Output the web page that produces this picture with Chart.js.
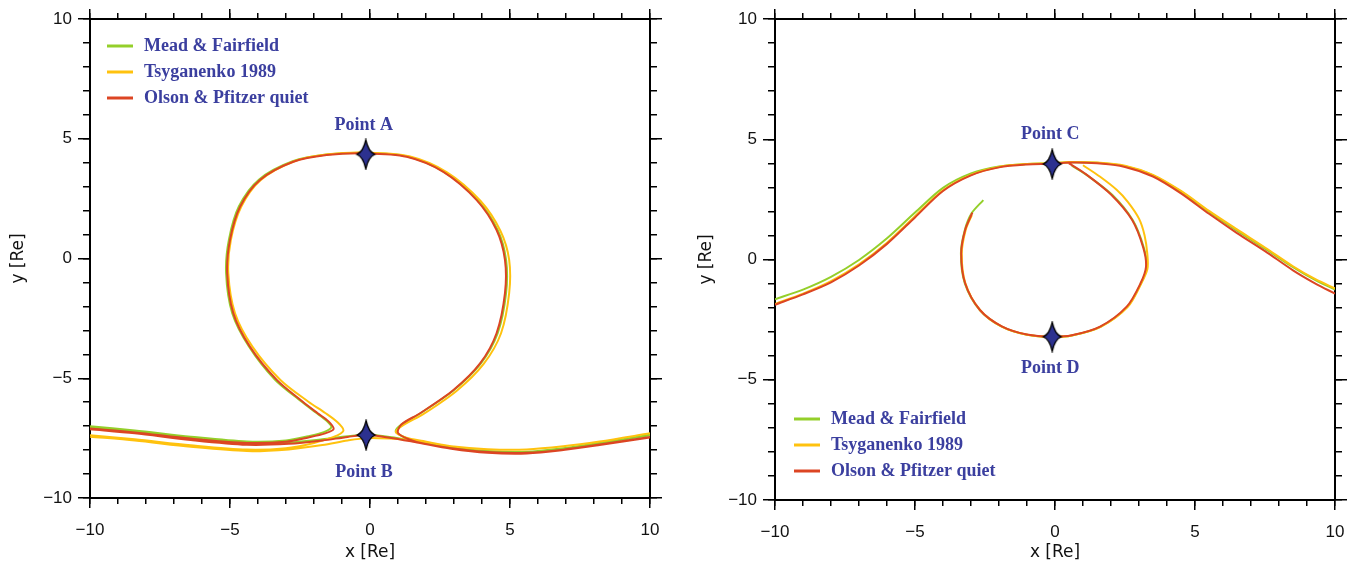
<!DOCTYPE html>
<html>
<head>
<meta charset="utf-8">
<title>Drift paths</title>
<script src="https://cdn.jsdelivr.net/npm/chart.js@4.4.1/dist/chart.umd.min.js"></script>
<style>
    html, body { margin: 0; padding: 0; background: #fff; }
    #wrap { position: relative; width: 1357px; height: 563px; overflow: hidden; }
    .panel { position: absolute; top: 0; }
    #panel-left { left: 0; }
    #panel-right { left: 680px; }
</style>
</head>
<body>
<div id="wrap">
    <div class="panel" id="panel-left"><canvas id="chart-left" width="680" height="563"></canvas></div>
    <div class="panel" id="panel-right"><canvas id="chart-right" width="677" height="563"></canvas></div>
</div>
<script>
// Field models, in legend order
const MODELS = ["Mead & Fairfield", "Tsyganenko 1989", "Olson & Pfitzer quiet"];

const AXIS_MIN = -10;
const AXIS_MAX = 10;
const MAJOR_TICKS = [-10, -5, 0, 5, 10];

// Left panel: null breaks a trace into separate pieces
const LEFT_MEAD_X = [-10, -8.4, -6.4, -4.4, -2.9, -1.7, -0.8, -0.12, 0.7, 1.6, 2.9, 4.2, 5.6, 6.9, 8.2, 10, null,
    -10, -8.4, -6.4, -4.4, -3.0, -2.2, -1.65, -1.38, -1.55, -1.95, -2.45, -3.4, -4.33, -4.92, -5.14, -5.04, -4.68, -3.96, -2.76, -1.55, -0.15,
    1.31, 2.64, 3.85, 4.56, 4.86, 4.86, 4.56, 3.96, 3.0, 1.8, 1.12, 0.92, 1.3, 1.8, 2.9, 4.2, 5.6, 6.9, 8.2, 10];
const LEFT_MEAD_Y = [-7.05, -7.24, -7.52, -7.72, -7.68, -7.55, -7.42, -7.36, -7.45, -7.62, -7.9, -8.07, -8.1, -7.95, -7.72, -7.38, null,
    -7.0, -7.18, -7.44, -7.64, -7.6, -7.42, -7.25, -7.05, -6.78, -6.42, -5.97, -5.05, -3.66, -2.28, -0.6, 0.78, 2.18, 3.3, 4.06, 4.34, 4.41,
    4.27, 3.62, 2.44, 1.19, -0.06, -1.45, -3.12, -4.38, -5.49, -6.46, -6.93, -7.22, -7.5, -7.65, -7.88, -8.04, -8.07, -7.92, -7.7, -7.36];

const LEFT_TSYG_X = [-10, -8.4, -6.4, -4.4, -2.9, -1.7, -0.8, -0.12, 0.7, 1.6, 2.9, 4.2, 5.6, 6.9, 8.2, 10, null,
    -10, -8.4, -6.4, -4.4, -3.0, -2.0, -1.3, -0.95, -1.15, -1.6, -2.2, -3.2, -4.2, -4.82, -5.06, -4.97, -4.6, -3.9, -2.7, -1.5, -0.1,
    1.4, 2.75, 3.95, 4.66, 4.97, 4.97, 4.68, 4.06, 3.1, 1.9, 1.2, 0.92, 1.3, 1.9, 2.9, 4.2, 5.6, 6.9, 8.2, 10];
const LEFT_TSYG_Y = [-7.44, -7.6, -7.86, -8.04, -7.97, -7.79, -7.6, -7.5, -7.52, -7.6, -7.84, -7.96, -7.97, -7.84, -7.64, -7.3, null,
    -7.38, -7.55, -7.8, -7.98, -7.92, -7.7, -7.45, -7.19, -6.85, -6.45, -5.98, -5.07, -3.68, -2.29, -0.62, 0.77, 2.16, 3.28, 4.06, 4.35, 4.42,
    4.27, 3.6, 2.4, 1.15, -0.06, -1.45, -3.12, -4.4, -5.52, -6.5, -6.95, -7.25, -7.48, -7.62, -7.84, -7.96, -7.97, -7.84, -7.64, -7.3];

const LEFT_OLSON_X = [-10, -8.4, -6.4, -4.4, -2.9, -1.7, -0.8, -0.12, 0.7, 1.6, 2.9, 4.2, 5.6, 6.9, 8.2, 10, null,
    -10, -8.4, -6.4, -4.4, -3.0, -2.2, -1.6, -1.3, -1.48, -1.88, -2.4, -3.33, -4.29, -4.88, -5.1, -5.0, -4.64, -3.93, -2.74, -1.55, -0.15,
    1.31, 2.62, 3.81, 4.52, 4.82, 4.82, 4.52, 3.93, 2.98, 1.79, 1.12, 1.0, 1.4, 1.9, 2.9, 4.2, 5.6, 6.9, 8.2, 10];
const LEFT_OLSON_Y = [-7.13, -7.3, -7.58, -7.78, -7.74, -7.6, -7.45, -7.37, -7.48, -7.66, -7.94, -8.11, -8.14, -8.0, -7.79, -7.47, null,
    -7.1, -7.26, -7.52, -7.7, -7.65, -7.47, -7.3, -7.12, -6.8, -6.45, -5.98, -5.07, -3.68, -2.29, -0.62, 0.77, 2.16, 3.28, 4.04, 4.32, 4.39,
    4.25, 3.62, 2.44, 1.19, -0.06, -1.45, -3.12, -4.38, -5.49, -6.46, -6.93, -7.28, -7.55, -7.72, -7.92, -8.08, -8.11, -7.98, -7.77, -7.45];

// Right panel: outer arch, then the inner loop
const RIGHT_MEAD_X = [-10, -9, -8, -7, -6, -5, -4, -3, -2, -1, -0.1, 0.5, 1.5, 2.5, 3.5, 4.5, 5.5, 6.5, 7.5, 8.5, 9.3, 10, null,
    0.6, 1.15, 2.05, 2.78, 3.17, 3.27, 3.07, 2.58, 1.62, 0.6, -0.1, -1.0, -1.9, -2.68, -3.22, -3.36, -3.22, -2.98, -2.56];
const RIGHT_MEAD_Y = [-1.65, -1.25, -0.72, -0.02, 0.88, 1.95, 2.98, 3.58, 3.87, 3.97, 4.0, 4.04, 4.02, 3.88, 3.5, 2.82, 1.98, 1.2, 0.45, -0.32, -0.86, -1.25, null,
    3.9, 3.5, 2.68, 1.63, 0.5, -0.3, -1.0, -1.97, -2.8, -3.16, -3.22, -3.13, -2.79, -2.11, -0.99, 0.26, 1.23, 1.92, 2.47];

const RIGHT_TSYG_X = [-10, -9, -8, -7, -6, -5, -4, -3, -2, -1, -0.1, 0.5, 1.5, 2.5, 3.5, 4.5, 5.5, 6.5, 7.5, 8.5, 9.3, 10, null,
    1.0, 1.6, 2.2, 2.6, 3.0, 3.2, 3.3, 3.3, 3.08, 2.6, 1.63, 0.6, -0.1, -1.0, -1.9, -2.68, -3.2, -3.33, -3.19, -2.97];
const RIGHT_TSYG_Y = [-1.85, -1.42, -0.9, -0.2, 0.7, 1.8, 2.88, 3.52, 3.85, 3.97, 4.0, 4.05, 4.03, 3.9, 3.52, 2.85, 2.02, 1.25, 0.5, -0.28, -0.82, -1.2, null,
    3.92, 3.45, 2.9, 2.4, 1.7, 1.0, 0.2, -0.4, -1.0, -1.97, -2.8, -3.16, -3.22, -3.13, -2.79, -2.1, -0.99, 0.26, 1.23, 1.85];

const RIGHT_OLSON_X = [-10, -9, -8, -7, -6, -5, -4, -3, -2, -1, -0.1, 0.5, 1.5, 2.5, 3.5, 4.5, 5.5, 6.5, 7.5, 8.5, 9.3, 10, null,
    0.5, 1.1, 2.0, 2.75, 3.15, 3.25, 3.05, 2.56, 1.61, 0.6, -0.1, -1.0, -1.9, -2.68, -3.21, -3.35, -3.21, -2.95];
const RIGHT_OLSON_Y = [-1.88, -1.45, -0.95, -0.25, 0.65, 1.75, 2.85, 3.5, 3.83, 3.95, 3.98, 4.03, 4.0, 3.85, 3.45, 2.75, 1.9, 1.1, 0.35, -0.45, -1.0, -1.42, null,
    4.0, 3.55, 2.7, 1.65, 0.5, -0.3, -1.0, -1.96, -2.79, -3.15, -3.21, -3.12, -2.78, -2.1, -0.99, 0.26, 1.23, 1.95];

// Marked positions
const LEFT_MARK_X = [-0.15, -0.14];
const LEFT_MARK_Y = [4.35, -7.37];
const LEFT_MARK_NAMES = ["Point A", "Point B"];
const RIGHT_MARK_X = [-0.1, -0.1];
const RIGHT_MARK_Y = [3.97, -3.21];
const RIGHT_MARK_NAMES = ["Point C", "Point D"];

const MODEL_COLORS = ["#94cf2a", "#ffc20e", "#dc4523"];
const LABEL_BLUE = "#3b3f9f";
const LABEL_FONT = 'bold 18px "Liberation Serif", "Times New Roman", serif';
const TICK_FONT = { family: '"Liberation Sans", Arial, sans-serif', size: 17 };
const TITLE_FONT = { family: '"DejaVu Sans", sans-serif', size: 17 };

function toPoints(xs, ys) {
    return xs.map((x, i) => ({ x, y: ys[i] }));
}

// four-pointed star used as the point marker
function makeStar() {
    const c = document.createElement("canvas");
    c.width = 22;
    c.height = 32;
    const g = c.getContext("2d");
    const cx = 11, cy = 16, k = 2.6;
    g.beginPath();
    g.moveTo(cx, 1.5);
    g.quadraticCurveTo(cx + k, cy - k, 20, cy);
    g.quadraticCurveTo(cx + k, cy + k, cx, 30.5);
    g.quadraticCurveTo(cx - k, cy + k, 2, cy);
    g.quadraticCurveTo(cx - k, cy - k, cx, 1.5);
    g.closePath();
    g.fillStyle = "#2c318f";
    g.fill();
    g.lineWidth = 1.3;
    g.strokeStyle = "#000";
    g.stroke();
    return c;
}

const STAR = makeStar();

function sizeTo(px) {
    return scale => {
        if (scale.isHorizontal()) scale.height = px;
        else scale.width = px;
    };
}

function majorAxis(axis, position, size, showLabels, title, titlePad) {
    const horizontal = axis === "x";
    return {
        type: "linear", axis, position, weight: 1,
        min: AXIS_MIN, max: AXIS_MAX,
        afterBuildTicks: scale => { scale.ticks = MAJOR_TICKS.map(value => ({ value })); },
        afterFit: sizeTo(size),
        border: { display: true, color: "#000", width: 2 },
        grid: { drawOnChartArea: false, drawTicks: true, color: "#000", lineWidth: 1.5, tickLength: horizontal ? 10 : 12 },
        ticks: {
            display: showLabels,
            color: "#111",
            padding: horizontal ? 12 : 6,
            maxRotation: 0,
            autoSkip: false,
            font: TICK_FONT,
            callback: v => String(v).replace("-", "\u2212"),
        },
        title: title
            ? { display: true, text: title, color: "#111", font: TITLE_FONT, padding: titlePad }
            : { display: false },
    };
}

function minorAxis(axis, position) {
    return {
        type: "linear", axis, position, weight: 0,
        min: AXIS_MIN, max: AXIS_MAX,
        afterFit: sizeTo(0),
        border: { display: false },
        grid: { drawOnChartArea: false, drawTicks: true, color: "#000", lineWidth: 1.5, tickLength: axis === "x" ? 6 : 7 },
        ticks: { display: false, stepSize: 1 },
    };
}

// Star captions and the in-plot legend
const overlay = {
    id: "overlay",
    afterDatasetsDraw(chart, args, opts) {
        const { ctx, chartArea } = chart;
        ctx.save();
        ctx.font = LABEL_FONT;
        ctx.fillStyle = LABEL_BLUE;
        ctx.textBaseline = "middle";

        ctx.textAlign = "center";
        chart.data.datasets.forEach((ds, i) => {
            if (!ds.captions) return;
            chart.getDatasetMeta(i).data.forEach((pt, j) => {
                ctx.fillText(ds.captions[j], pt.x - 2, pt.y + ds.captionDy[j]);
            });
        });

        ctx.textAlign = "left";
        const x0 = chartArea.left + opts.dx;
        const y0 = opts.fromTop != null ? chartArea.top + opts.fromTop : chartArea.bottom - opts.fromBottom;
        MODELS.forEach((name, k) => {
            const y = y0 + k * 26;
            ctx.strokeStyle = MODEL_COLORS[k];
            ctx.lineWidth = 3;
            ctx.beginPath();
            ctx.moveTo(x0, y);
            ctx.lineTo(x0 + 26, y);
            ctx.stroke();
            ctx.fillStyle = LABEL_BLUE;
            ctx.fillText(name, x0 + 37, y);
        });
        ctx.restore();
    },
};

function traceSet(label, xs, ys, k) {
    return {
        label,
        data: toPoints(xs, ys),
        borderColor: MODEL_COLORS[k],
        borderWidth: 2,
        pointRadius: 0,
        tension: 0.3,
        spanGaps: false,
        fill: false,
        order: 3 - k,
    };
}

function markSet(xs, ys, names, dy) {
    return {
        label: "marks",
        data: toPoints(xs, ys),
        showLine: false,
        pointStyle: STAR,
        pointRadius: 10,
        order: -1,
        captions: names,
        captionDy: dy,
    };
}

function buildChart(canvasId, traces, marks, frame, legendPos) {
    return new Chart(document.getElementById(canvasId), {
        type: "line",
        data: {
            datasets: [
                traceSet(MODELS[0], traces[0][0], traces[0][1], 0),
                traceSet(MODELS[1], traces[1][0], traces[1][1], 1),
                traceSet(MODELS[2], traces[2][0], traces[2][1], 2),
                markSet(marks[0], marks[1], marks[2], marks[3]),
            ],
        },
        options: {
            responsive: false,
            animation: false,
            events: [],
            layout: { padding: { left: 0, top: frame.top, right: frame.right, bottom: 0 } },
            plugins: {
                legend: { display: false },
                tooltip: { enabled: false },
                overlay: legendPos,
            },
            scales: {
                x: majorAxis("x", "bottom", frame.bottom, true, "x [Re]", { top: 0, bottom: 0 }),
                xMinor: minorAxis("x", "bottom"),
                xTop: majorAxis("x", "top", 0, false),
                xTopMinor: minorAxis("x", "top"),
                y: majorAxis("y", "left", frame.left, true, "y [Re]", { top: frame.titlePad, bottom: 0 }),
                yMinor: minorAxis("y", "left"),
                yRight: majorAxis("y", "right", 0, false),
                yRightMinor: minorAxis("y", "right"),
            },
        },
        plugins: [overlay],
    });
}

buildChart("chart-left",
    [[LEFT_MEAD_X, LEFT_MEAD_Y], [LEFT_TSYG_X, LEFT_TSYG_Y], [LEFT_OLSON_X, LEFT_OLSON_Y]],
    [LEFT_MARK_X, LEFT_MARK_Y, LEFT_MARK_NAMES, [-29, 37]],
    { left: 90, top: 19, right: 30, bottom: 65, titlePad: 8 },
    { dx: 17, fromTop: 27 });

buildChart("chart-right",
    [[RIGHT_MEAD_X, RIGHT_MEAD_Y], [RIGHT_TSYG_X, RIGHT_TSYG_Y], [RIGHT_OLSON_X, RIGHT_OLSON_Y]],
    [RIGHT_MARK_X, RIGHT_MARK_Y, RIGHT_MARK_NAMES, [-30, 32]],
    { left: 95, top: 19, right: 22, bottom: 63, titlePad: 16 },
    { dx: 19, fromBottom: 81 });
</script>
</body>
</html>
